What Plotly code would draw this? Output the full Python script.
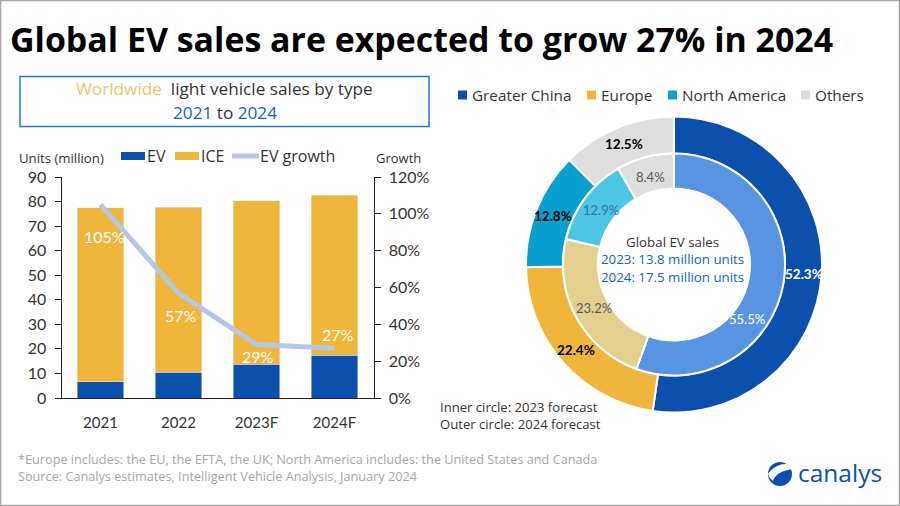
import math
import plotly.graph_objects as go

W, H = 900, 506
FONT = "Open Sans"
TICK = "Lato"

years = ["2021", "2022", "2023F", "2024F"]
ev = [6.7, 10.5, 13.8, 17.5]
ice = [70.7, 67.1, 66.5, 65.1]
growth = [105, 57, 29, 27]
growth_labels = ["105%", "57%", "29%", "27%"]
regions = ["Greater China", "Europe", "North America", "Others"]
outer_2024 = [52.3, 22.4, 12.8, 12.5]
inner_2023 = [55.5, 23.2, 12.9, 8.4]

BLUE, GOLD, LINE = "#0b50ad", "#f0b63c", "#b4c7e7"
outer_colors = [BLUE, GOLD, "#09a0d0", "#dedede"]
inner_colors = ["#5795e2", "#e3d08f", "#4cc6e3", "#dedede"]
legend_colors = [BLUE, GOLD, "#09a0d0", "#dedede"]


def px(x):
    return x / W


def py(y):
    return 1 - y / H


shapes, ann = [], []


def text(x, y, s, size, color="#333333", anchor="left", font=FONT, bold=False):
    # annotations carry about 2px of padding on the anchored side
    x = x - 2 if anchor == "left" else x
    ann.append(dict(xref="paper", yref="paper", x=px(x), y=py(y), text=f"<b>{s}</b>" if bold else s,
                    showarrow=False, xanchor=anchor, yanchor="middle", align=anchor,
                    font=dict(size=size, color=color, family=font)))


def rect(x0, y0, x1, y1, fill=None, line=None, lw=0):
    shapes.append(dict(type="rect", xref="paper", yref="paper", x0=px(x0), x1=px(x1), y0=py(y0), y1=py(y1),
                       fillcolor=fill or "rgba(0,0,0,0)", line=dict(color=line or "rgba(0,0,0,0)", width=lw)))


fig = go.Figure()
fig.add_bar(x=years, y=ev, marker_color=BLUE, name="EV", xaxis="x", yaxis="y")
fig.add_bar(x=years, y=ice, marker_color=GOLD, name="ICE", xaxis="x", yaxis="y")
fig.add_scatter(x=years, y=growth, mode="lines", name="EV growth", line=dict(color=LINE, width=5),
                xaxis="x", yaxis="y2")

label_shift = [(4, -32), (2, -22), (1, -12), (3, 14)]
for i, (g, lab, (dx, dy)) in enumerate(zip(growth, growth_labels, label_shift)):
    ann.append(dict(xref="x", yref="y2", x=i, y=g, text=lab, showarrow=False, xshift=dx, yshift=dy,
                    font=dict(size=16, color="white", family=TICK)))

CX, CY = 674, 264.5
for vals, colors, dom_r, hole, tcol, bold, label_r, nudge, lsize in [
    (outer_2024, outer_colors, 148, 0.75, ["white", "black", "black", "black"], True, 130, [0, 0, 0, 0], 13.5),
    (inner_2023, inner_colors, 111, 0.685, ["white", "#595959", "#2f74a8", "#595959"], False, 91, [27, 0, 0, 0], 13),
]:
    fig.add_pie(values=vals, labels=regions, sort=False, direction="clockwise", rotation=0, hole=hole,
                domain=dict(x=[px(CX - dom_r), px(CX + dom_r)], y=[py(CY + dom_r), py(CY - dom_r)]),
                marker=dict(colors=colors, line=dict(color="white", width=2)),
                textinfo="none", showlegend=False, hoverinfo="label+value")
    total, cum = sum(vals), 0
    for v, c, n in zip(vals, tcol, nudge):
        ang = math.radians((cum + v / 2) / total * 360 + n)
        cum += v
        text(CX + label_r * math.sin(ang), CY - label_r * math.cos(ang), f"{v}%", lsize, c, "center", TICK, bold)

# title and chart heading
text(10, 38.5, "Global EV sales are expected to grow 27% in 2024", 33.9, "black", bold=True)
rect(20, 76.5, 429, 126.5, line="#1f78e0", lw=1.5)
text(224.5, 89, '<span style="color:#ecc66e">Worldwide</span>  light vehicle sales by type', 17.2, "#333333", "center")
text(224.5, 112, '<span style="color:#0b63d6">2021</span> to <span style="color:#0b63d6">2024</span>', 17.2, "#333333", "center")

# left legend
text(19, 158, "Units (million)", 13.2)
text(376, 158, "Growth", 13)
rect(121, 152, 145, 160, fill=BLUE)
text(147, 156, "EV", 16)
rect(175, 152, 199, 160, fill=GOLD)
text(201, 156, "ICE", 16)
shapes.append(dict(type="line", xref="paper", yref="paper", x0=px(232), x1=px(259), y0=py(156), y1=py(156),
                   line=dict(color=LINE, width=5)))
text(260, 156, "EV growth", 16)

# donut legend
for x, name, c in zip([458, 587, 668, 801], regions, legend_colors):
    rect(x, 90.5, x + 9, 99.5, fill=c)
    text(x + 14, 95, name, 15.3)

# donut centre and notes
text(672, 259, 'Global EV sales<br><span style="color:#0b63d6">2023: 13.8 million units</span>'
     '<br><span style="color:#0b63d6">2024: 17.5 million units</span>', 13.3, "#333333", "center")
text(440, 407, "Inner circle: 2023 forecast", 13.1)
text(440, 424, "Outer circle: 2024 forecast", 13.1)

# footnote
text(18, 459, "*Europe includes: the EU, the EFTA, the UK; North America includes: the United States and Canada", 12.7, "#a6a6a6")
text(18, 476, "Source: Canalys estimates, Intelligent Vehicle Analysis, January 2024", 12.7, "#a6a6a6")

# logo
shapes.append(dict(type="circle", xref="paper", yref="paper", x0=px(768), x1=px(792), y0=py(486), y1=py(462),
                   fillcolor=BLUE, line=dict(width=0)))


def path(points):
    out = []
    for cmd, *xy in points:
        out.append(cmd + " ".join(f"{px(xy[i]):.5f},{py(xy[i+1]):.5f}" for i in range(0, len(xy), 2)))
    return " ".join(out) + " Z"


shapes.append(dict(type="path", xref="paper", yref="paper", fillcolor="white", line=dict(width=0),
                   path=path([("M", 794, 465), ("Q", 777, 461, 768, 474), ("Q", 769, 478, 773, 481),
                              ("Q", 776, 471, 794, 469)])))
text(798, 472, "canalys", 24.5, BLUE)

# outer frame
rect(0.5, 0.5, 899.5, 505.5, line="#a6a6a6", lw=1.5)

fig.update_layout(
    width=W, height=H, margin=dict(l=0, r=0, t=0, b=0), barmode="stack", bargap=0.41, showlegend=False,
    paper_bgcolor="white", plot_bgcolor="white", shapes=shapes, annotations=ann,
    font=dict(family=FONT, color="#333333"),
    xaxis=dict(type="category", range=[-0.5, 3.5], automargin=False, domain=[px(61.5), px(373.5)], showline=True,
               linecolor="#222222", linewidth=1, ticks="", tickfont=dict(size=15, family=TICK, color="#333333"),
               showgrid=False, anchor="y", ticklabelstandoff=11),
    yaxis=dict(domain=[py(398), py(177)], range=[0, 90], dtick=10, automargin=False, showgrid=False, zeroline=False,
               showline=True, linecolor="#222222", ticks="outside", ticklen=6, tickcolor="#222222",
               tickfont=dict(size=16, family=TICK, color="#333333"), anchor="x", ticklabelstandoff=5),
    yaxis2=dict(domain=[py(398), py(177)], range=[0, 120], dtick=20, ticksuffix="%", overlaying="y", side="right",
                automargin=False, showgrid=False, zeroline=False, showline=True, linecolor="#222222", ticks="outside",
                ticklen=6, tickcolor="#222222", tickfont=dict(size=16, family=TICK, color="#333333"), anchor="x",
                ticklabelstandoff=5),
)
fig.write_html("out.html", config=dict(displayModeBar=False), post_script="document.body.style.margin='0';")
